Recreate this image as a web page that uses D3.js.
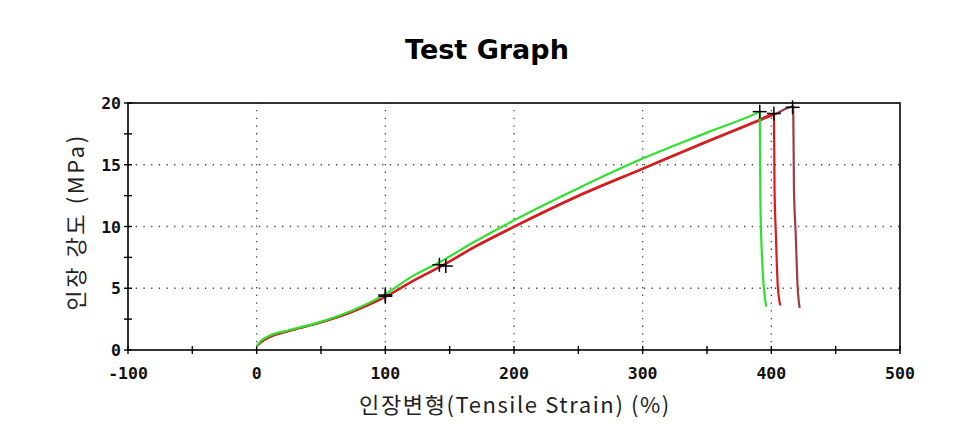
<!DOCTYPE html>
<html><head><meta charset="utf-8">
<script src="https://cdn.jsdelivr.net/npm/d3@7"></script>
<style>body{margin:0;background:#fff;}svg{display:block;}</style>
</head><body>
<svg id="chart" width="956" height="430"></svg>
<script>
// ---- data ----
const title = "Test Graph";
const xLabel = "인장변형(Tensile Strain) (%)";
const yLabel = "인장 강도 (MPa)";
const xTicks = [-100, 0, 100, 200, 300, 400, 500];
const xMinorTicks = [-50, 50, 150, 250, 350, 450];
const yTicks = [0, 5, 10, 15, 20];
const yMinorTicks = [2.5, 7.5, 12.5, 17.5];
const xGrid = [0, 100, 200, 300, 400];
const yGrid = [5, 10, 15];

const greenStrain = [0, 3, 10, 25, 47, 72, 98, 120, 142, 170, 200, 250, 300, 350, 389, 391, 391.5, 393, 396];
const greenStress = [0.3, 0.7, 1.15, 1.6, 2.2, 3.1, 4.4, 5.9, 7.1, 8.8, 10.5, 13.1, 15.5, 17.6, 19.2, 19.3, 12, 7, 3.5];

const brownStrain = [0, 3, 10, 25, 47, 72, 100, 120, 145, 170, 200, 250, 300, 350, 390, 402, 417, 417.6, 418.9, 420.4, 422];
const brownStress = [0.3, 0.6, 1.05, 1.55, 2.15, 3.0, 4.3, 5.5, 6.85, 8.35, 9.95, 12.45, 14.65, 16.85, 18.55, 19.05, 19.7, 13, 9.5, 5.2, 3.4];

const redStrain = [0, 3, 10, 25, 47, 72, 100, 120, 145, 170, 200, 250, 300, 350, 390, 402, 402.5, 403.5, 405, 407];
const redStress = [0.3, 0.6, 1.05, 1.55, 2.15, 3.0, 4.3, 5.5, 6.9, 8.4, 10.0, 12.5, 14.7, 16.9, 18.6, 19.1, 13, 9.5, 5.2, 3.6];

const markStrain = [100, 142, 391, 100, 147, 402, 416.5];
const markStress = [4.45, 6.9, 19.3, 4.35, 6.8, 19.15, 19.65];

// ---- drawing ----
const svg = d3.select("#chart");
const x = d3.scaleLinear().domain([-100, 500]).range([128, 900]);
const y = d3.scaleLinear().domain([0, 20]).range([350, 103]);

// grid
const g = svg.append("g");
g.selectAll(".vg").data(xGrid).join("line")
  .attr("x1", d => x(d)).attr("x2", d => x(d))
  .attr("y1", y(0)).attr("y2", y(20))
  .attr("stroke", "#444").attr("stroke-width", 1.3).attr("stroke-dasharray", "1.3,6.4");
g.selectAll(".hg").data(yGrid).join("line")
  .attr("x1", x(-100)).attr("x2", x(500))
  .attr("y1", d => y(d)).attr("y2", d => y(d))
  .attr("stroke", "#444").attr("stroke-width", 1.3).attr("stroke-dasharray", "1.3,6.4");

// frame
svg.append("rect").attr("x", x(-100)).attr("y", y(20))
  .attr("width", x(500) - x(-100)).attr("height", y(0) - y(20))
  .attr("fill", "none").attr("stroke", "#000").attr("stroke-width", 1.6);

// ticks
const tk = svg.append("g").attr("stroke", "#000").attr("stroke-width", 1.4);
tk.selectAll(".xt").data(xTicks.concat(xMinorTicks)).join("line")
  .attr("x1", d => x(d)).attr("x2", d => x(d))
  .attr("y1", y(0) - 4).attr("y2", y(0) + 4);
tk.selectAll(".yt").data(yTicks.concat(yMinorTicks)).join("line")
  .attr("x1", x(-100) - 4).attr("x2", x(-100) + 4)
  .attr("y1", d => y(d)).attr("y2", d => y(d));

// tick labels
const tf = "'DejaVu Sans Mono', monospace";
svg.selectAll(".xl").data(xTicks).join("text")
  .attr("x", d => x(d)).attr("y", 379)
  .attr("text-anchor", "middle").attr("font-family", tf).attr("font-weight", "bold")
  .attr("font-size", 16.5).attr("fill", "#111").text(d => d);
svg.selectAll(".yl").data(yTicks).join("text")
  .attr("x", 121).attr("y", d => y(d) + 6)
  .attr("text-anchor", "end").attr("font-family", tf).attr("font-weight", "bold")
  .attr("font-size", 16.5).attr("fill", "#111").text(d => d);

// curves
const line = d3.line().x(d => x(d[0])).y(d => y(d[1])).curve(d3.curveMonotoneX);
function series(xs, ys, color, w) {
  const pts = xs.map((v, i) => [v, ys[i]]);
  svg.append("path").datum(pts).attr("d", line)
    .attr("fill", "none").attr("stroke", color).attr("stroke-width", w);
}
series(brownStrain, brownStress, "#a03c44", 2.2);
series(redStrain, redStress, "#dd1a1a", 2.2);
series(greenStrain, greenStress, "#2fe02f", 2.2);

// markers
const marks = markStrain.map((v, i) => [v, markStress[i]]);
const mk = svg.append("g").attr("stroke", "#000").attr("stroke-width", 1.5);
mk.selectAll(".mh").data(marks).join("line")
  .attr("x1", d => x(d[0]) - 7).attr("x2", d => x(d[0]) + 7)
  .attr("y1", d => y(d[1])).attr("y2", d => y(d[1]));
mk.selectAll(".mv").data(marks).join("line")
  .attr("x1", d => x(d[0])).attr("x2", d => x(d[0]))
  .attr("y1", d => y(d[1]) - 7).attr("y2", d => y(d[1]) + 7);

// titles
svg.append("text").attr("x", 487).attr("y", 59).attr("text-anchor", "middle")
  .attr("font-family", "'DejaVu Sans', Verdana, sans-serif").attr("font-weight", "bold")
  .attr("font-size", 27).attr("fill", "#000").text(title);
svg.append("text").attr("x", 515).attr("y", 413).attr("text-anchor", "middle")
  .attr("font-family", "'Noto Sans CJK KR', sans-serif").attr("letter-spacing", 1.6)
  .attr("font-size", 22).attr("fill", "#222").text(xLabel);
svg.append("text").attr("transform", "translate(84,222) rotate(-90)").attr("text-anchor", "middle")
  .attr("font-family", "'Noto Sans CJK KR', sans-serif").attr("letter-spacing", 2.6)
  .attr("font-size", 22).attr("fill", "#222").text(yLabel);
</script>
</body></html>
